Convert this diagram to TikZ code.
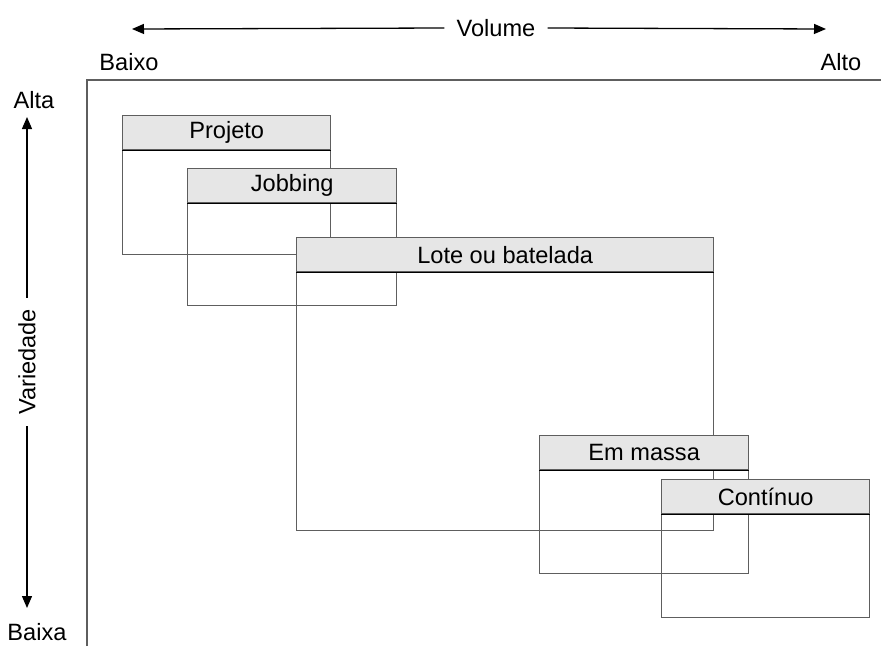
\documentclass[tikz,border=0pt]{standalone}
\usepackage{fontspec}
\setmainfont{Liberation Sans}
\usetikzlibrary{arrows.meta}
\definecolor{edge}{HTML}{5E5E5E}
\definecolor{headfill}{HTML}{E6E6E6}
\begin{document}
\begin{tikzpicture}[x=1pt,y=-1pt,
  font=\fontsize{23.6}{28}\selectfont,
  every node/.style={inner sep=0pt},
  framerule/.style={draw=edge,line width=1.4pt},
  boxbody/.style={draw=edge,line width=1.4pt,anchor=north west,rectangle},
  boxhead/.style={draw=edge,fill=headfill,line width=1.4pt,anchor=north west,rectangle,minimum height=34pt},
  sepline/.style={draw=black,line width=1.4pt},
  axis/.style={draw=black,line width=1.3pt,-{Triangle[length=12pt,width=10pt]}}]
\useasboundingbox (0,0) rectangle (881,646);

% frame of the chart
\coordinate (fbl) at (87,646);
\coordinate (ftl) at (87,80);
\coordinate (ftr) at (881,80);
\draw[framerule] (fbl) -- (ftl) -- (ftr);

% horizontal axis: volume
\node[inner xsep=12pt] (vol) at (496,28) {Volume};
\coordinate (vleft) at (132,29);
\coordinate (vright) at (826,29);
\draw[axis] (vol.west) -- (vleft);
\draw[axis] (vol.east) -- (vright);
\node (baixo) at (129,62) {Baixo};
\node (alto) at (841,62) {Alto};

% vertical axis: variety
\node[rotate=90,inner xsep=11pt] (var) at (27,362) {Variedade};
\coordinate (vtop) at (27,117);
\coordinate (vbot) at (27,608);
\draw[axis] (var.east) -- (vtop);
\draw[axis] (var.west) -- (vbot);
\node (alta) at (34,100) {Alta};
\node (baixa) at (37,632) {Baixa};

% process types
\node[boxbody,minimum width=208pt,minimum height=139pt] (proj) at (122,115) {};
\node[boxhead,minimum width=208pt] (projh) at (122,115) {Projeto};
\draw[sepline] (projh.south west) -- (projh.south east);

\node[boxbody,minimum width=209pt,minimum height=137pt] (job) at (187,168) {};
\node[boxhead,minimum width=209pt] (jobh) at (187,168) {Jobbing};
\draw[sepline] (jobh.south west) -- (jobh.south east);

\node[boxbody,minimum width=417pt,minimum height=293pt] (lote) at (296,237) {};
\node[boxhead,minimum width=417pt] (loteh) at (296,237) {Lote ou batelada};
\draw[sepline] (loteh.south west) -- (loteh.south east);

\node[boxbody,minimum width=209pt,minimum height=138pt] (massa) at (539,435) {};
\node[boxhead,minimum width=209pt] (massah) at (539,435) {Em massa};
\draw[sepline] (massah.south west) -- (massah.south east);

\node[boxbody,minimum width=208pt,minimum height=138pt] (cont) at (661,479) {};
\node[boxhead,minimum width=208pt] (conth) at (661,479) {Contínuo};
\draw[sepline] (conth.south west) -- (conth.south east);
\end{tikzpicture}
\end{document}
